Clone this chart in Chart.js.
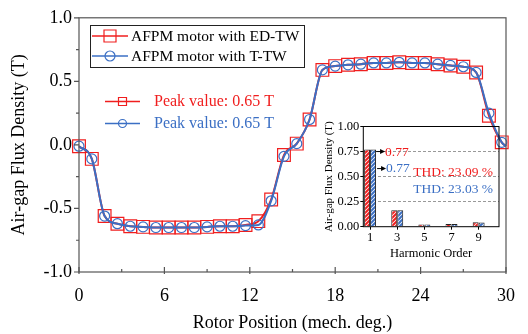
<!DOCTYPE html>
<html lang="en">
<head>
<meta charset="UTF-8"/>
<title>Air-gap Flux Density</title>
<style>
  html, body { margin: 0; padding: 0; background: #fff; }
  .wrap { position: relative; width: 528px; height: 334px; }
  #main { position: absolute; left: 0; top: 0; }
  #inset { position: absolute; left: 296px; top: 106px; }
</style>
<script src="https://cdn.jsdelivr.net/npm/chart.js"></script>
</head>
<body>
<div class="wrap">
  <canvas id="main" width="528" height="334"></canvas>
  <canvas id="inset" width="212" height="160"></canvas>
</div>
<script>
// main curve data (mech. deg. / T)
const rotorPos = [0, 0.9, 1.8, 2.7, 3.6, 4.5, 5.4, 6.3, 7.2, 8.1, 9.0, 9.9, 10.8, 11.7, 12.6, 13.5, 14.4,
  15.3, 16.2, 17.1, 18.0, 18.9, 19.8, 20.7, 21.6, 22.5, 23.4, 24.3, 25.2, 26.1, 27.0, 27.9, 28.8, 29.7, 30];
const edTW = [-0.01, -0.11, -0.56, -0.62, -0.64, -0.645, -0.65, -0.65, -0.65, -0.65, -0.645, -0.64, -0.64,
  -0.63, -0.60, -0.43, -0.08, 0.01, 0.20, 0.59, 0.62, 0.63, 0.635, 0.645, 0.645, 0.65, 0.645, 0.645,
  0.635, 0.625, 0.615, 0.57, 0.23, 0.02, -0.01];
const tTW = [-0.01, -0.11, -0.56, -0.62, -0.64, -0.645, -0.65, -0.65, -0.65, -0.65, -0.645, -0.64, -0.64,
  -0.635, -0.63, -0.44, -0.09, 0.01, 0.20, 0.59, 0.62, 0.63, 0.635, 0.645, 0.645, 0.65, 0.645, 0.645,
  0.635, 0.625, 0.615, 0.57, 0.25, 0.02, -0.01];
const xMajor = [0, 6, 12, 18, 24, 30];
const xMinor = [3, 9, 15, 21, 27];
const yMajor = [-1, -0.5, 0, 0.5, 1];
const yMinor = [-0.75, -0.25, 0.25, 0.75];

// inset harmonic spectrum
const harmOrders = ['1', '2', '3', '4', '5', '6', '7', '8', '9', '10'];
const harmED = [0.77, null, 0.165, null, 0.022, null, 0.027, null, 0.044, null];
const harmT  = [0.77, null, 0.165, null, 0.022, null, 0.027, null, 0.042, null];

const RED = 'rgb(240,30,30)';
const BLUE = '#3b6fc4';
const SERIF = "'Liberation Serif', 'Times New Roman', serif";

const toPoints = ys => ys.map((y, i) => ({ x: rotorPos[i], y }));
const lastIdx = rotorPos.length - 1;

// frame, ticks, legend and peak notes for the main plot
const mainDecor = {
  id: 'mainDecor',
  afterDraw(chart) {
    const { ctx, chartArea: a, scales: { x, y } } = chart;
    ctx.save();
    ctx.strokeStyle = '#555';
    ctx.lineWidth = 1.2;
    ctx.strokeRect(a.left, a.top, a.right - a.left, a.bottom - a.top);
    ctx.beginPath();
    yMajor.forEach(v => { const p = y.getPixelForValue(v); ctx.moveTo(a.left - 5, p); ctx.lineTo(a.left, p); });
    yMinor.forEach(v => { const p = y.getPixelForValue(v); ctx.moveTo(a.left - 3, p); ctx.lineTo(a.left, p); });
    xMajor.forEach(v => { const p = x.getPixelForValue(v); ctx.moveTo(p, a.bottom + 2); ctx.lineTo(p, a.bottom - 5); });
    xMinor.forEach(v => { const p = x.getPixelForValue(v); ctx.moveTo(p, a.bottom); ctx.lineTo(p, a.bottom - 3); });
    ctx.stroke();

    // legend box
    ctx.strokeStyle = '#222';
    ctx.lineWidth = 1;
    ctx.strokeRect(90.5, 25.5, 214, 42);
    const sample = (x0, x1, yy, color, shape, size) => {
      ctx.strokeStyle = color;
      ctx.lineWidth = 1.6;
      ctx.beginPath(); ctx.moveTo(x0, yy); ctx.lineTo(x1, yy); ctx.stroke();
      const cx = (x0 + x1) / 2;
      ctx.lineWidth = 1.2;
      ctx.beginPath();
      if (shape === 'rect') ctx.rect(cx - size / 2, yy - size / 2, size, size);
      else ctx.arc(cx, yy, size / 2, 0, Math.PI * 2);
      ctx.stroke();
    };
    ctx.font = '15.5px ' + SERIF;
    ctx.textBaseline = 'middle';
    ctx.textAlign = 'left';
    sample(92, 128, 36, RED, 'rect', 12);
    sample(92, 128, 56, BLUE, 'circle', 10);
    ctx.fillStyle = '#000';
    ctx.fillText('AFPM motor with ED-TW', 131, 37);
    ctx.fillText('AFPM motor with T-TW', 131, 57);

    // peak value notes
    ctx.font = '16px ' + SERIF;
    sample(105, 140, 101.5, RED, 'rect', 8);
    sample(105, 140, 123.5, BLUE, 'circle', 8);
    ctx.fillStyle = RED;
    ctx.fillText('Peak value: 0.65 T', 154, 102);
    ctx.fillStyle = BLUE;
    ctx.fillText('Peak value: 0.65 T', 154, 124);
    ctx.restore();
  }
};

new Chart(document.getElementById('main'), {
  type: 'line',
  data: {
    datasets: [
      {
        label: 'AFPM motor with ED-TW', data: toPoints(edTW), order: 2,
        borderColor: RED, borderWidth: 2, cubicInterpolationMode: 'monotone',
        pointStyle: 'rect', pointRadius: c => c.dataIndex === lastIdx ? 0 : 9,
        pointBorderColor: RED, pointBackgroundColor: 'rgba(0,0,0,0)', pointBorderWidth: 1.2, clip: false
      },
      {
        label: 'AFPM motor with T-TW', data: toPoints(tTW), order: 1,
        borderColor: BLUE, borderWidth: 2, cubicInterpolationMode: 'monotone',
        pointStyle: 'circle', pointRadius: c => c.dataIndex === lastIdx ? 0 : 5,
        pointBorderColor: BLUE, pointBackgroundColor: 'rgba(0,0,0,0)', pointBorderWidth: 1.2, clip: false
      }
    ]
  },
  options: {
    responsive: false, animation: false,
    layout: { padding: { top: 17, right: 10, left: 0, bottom: 0 } },
    plugins: { legend: { display: false }, tooltip: { enabled: false } },
    scales: {
      x: {
        type: 'linear', min: 0, max: 30,
        ticks: { stepSize: 6, color: '#000', padding: 13, maxRotation: 0, font: { family: SERIF, size: 18 } },
        grid: { display: false, drawTicks: false }, border: { display: false },
        title: { display: true, text: 'Rotor Position (mech. deg.)', color: '#000',
                 font: { family: SERIF, size: 18 }, padding: { top: 0, bottom: 0 } },
        afterFit(s) { s.height = 62; }
      },
      y: {
        min: -1, max: 1,
        ticks: { stepSize: 0.5, color: '#000', padding: 7, font: { family: SERIF, size: 18 },
                 callback: v => v.toFixed(1) },
        grid: { display: false, drawTicks: false }, border: { display: false },
        title: { display: true, text: 'Air-gap Flux Density (T)', color: '#000',
                 font: { family: SERIF, size: 18 }, padding: { top: 8, bottom: 0 } },
        afterFit(s) { s.width = 79; }
      }
    }
  },
  plugins: [mainDecor]
});

// hatched fill for the spectrum bars
function hatch(color) {
  const c = document.createElement('canvas');
  c.width = 4; c.height = 4;
  const g = c.getContext('2d');
  g.fillStyle = '#fff';
  g.fillRect(0, 0, 4, 4);
  g.strokeStyle = color;
  g.lineWidth = 2;
  g.beginPath();
  g.moveTo(0, 4); g.lineTo(4, 0);
  g.moveTo(-1, 1); g.lineTo(1, -1);
  g.moveTo(3, 5); g.lineTo(5, 3);
  g.stroke();
  return g.createPattern(c, 'repeat');
}

const insetDecor = {
  id: 'insetDecor',
  afterDraw(chart) {
    const { ctx, chartArea: a, scales: { x, y } } = chart;
    ctx.save();
    ctx.strokeStyle = '#000';
    ctx.lineWidth = 1;
    ctx.strokeRect(a.left, a.top, a.right - a.left, a.bottom - a.top);
    const px = x.getPixelForValue(0);
    const arrow = (x0, x1, yy) => {
      ctx.beginPath(); ctx.moveTo(x0, yy); ctx.lineTo(x1 - 4, yy); ctx.stroke();
      ctx.beginPath(); ctx.moveTo(x1, yy); ctx.lineTo(x1 - 5, yy - 2.5); ctx.lineTo(x1 - 5, yy + 2.5);
      ctx.closePath(); ctx.fill();
    };
    ctx.fillStyle = '#000';
    arrow(px + 6, px + 15, y.getPixelForValue(0.75));
    arrow(px + 7, px + 16, y.getPixelForValue(0.58));
    ctx.font = '13.5px ' + SERIF;
    ctx.textBaseline = 'middle';
    ctx.textAlign = 'left';
    ctx.fillStyle = RED;
    ctx.fillText('0.77', px + 15, y.getPixelForValue(0.745));
    ctx.fillStyle = BLUE;
    ctx.fillText('0.77', px + 16, y.getPixelForValue(0.58));
    ctx.textAlign = 'right';
    ctx.fillStyle = RED;
    ctx.fillText('THD: 23.09 %', a.right - 6, y.getPixelForValue(0.543));
    ctx.fillStyle = BLUE;
    ctx.fillText('THD: 23.03 %', a.right - 6, y.getPixelForValue(0.374));
    ctx.restore();
  }
};

new Chart(document.getElementById('inset'), {
  type: 'bar',
  data: {
    labels: harmOrders,
    datasets: [
      { label: 'ED-TW', data: harmED, backgroundColor: hatch(RED), borderColor: '#222', borderWidth: 1 },
      { label: 'T-TW', data: harmT, backgroundColor: hatch(BLUE), borderColor: '#222', borderWidth: 1 }
    ]
  },
  options: {
    responsive: false, animation: false,
    layout: { padding: { top: 20.5, right: 9, left: 0, bottom: 0 } },
    datasets: { bar: { categoryPercentage: 0.88, barPercentage: 1.0 } },
    plugins: { legend: { display: false }, tooltip: { enabled: false } },
    scales: {
      x: {
        offset: true,
        grid: { offset: false, drawOnChartArea: false, tickLength: 3,
                tickColor: c => c.index % 2 === 0 ? '#000' : 'rgba(0,0,0,0)' },
        border: { display: false },
        ticks: { autoSkip: false, maxRotation: 0, color: '#000', padding: 1, font: { family: SERIF, size: 12.5 },
                 callback: (v, i) => i % 2 === 0 ? harmOrders[i] : '' },
        title: { display: true, text: 'Harmonic Order', color: '#000',
                 font: { family: SERIF, size: 12.5 }, padding: { top: 0, bottom: 5 } },
        afterFit(s) { s.height = 39.3; }
      },
      y: {
        min: 0, max: 1,
        ticks: { stepSize: 0.25, color: '#000', padding: 1, font: { family: SERIF, size: 12.5 },
                 callback: v => v.toFixed(2) },
        grid: { color: c => (c.tick && (c.tick.value === 0 || c.tick.value === 1)) ? 'rgba(0,0,0,0)' : '#999',
                tickColor: '#000', tickLength: 3, lineWidth: 1 },
        border: { display: false, dash: [3, 2] },
        title: { display: true, text: 'Air-gap Flux Density (T)', color: '#000',
                 font: { family: SERIF, size: 11 }, padding: { top: 27, bottom: 0 } },
        afterFit(s) { s.width = 67.3; }
      }
    }
  },
  plugins: [insetDecor]
});
</script>
</body>
</html>
